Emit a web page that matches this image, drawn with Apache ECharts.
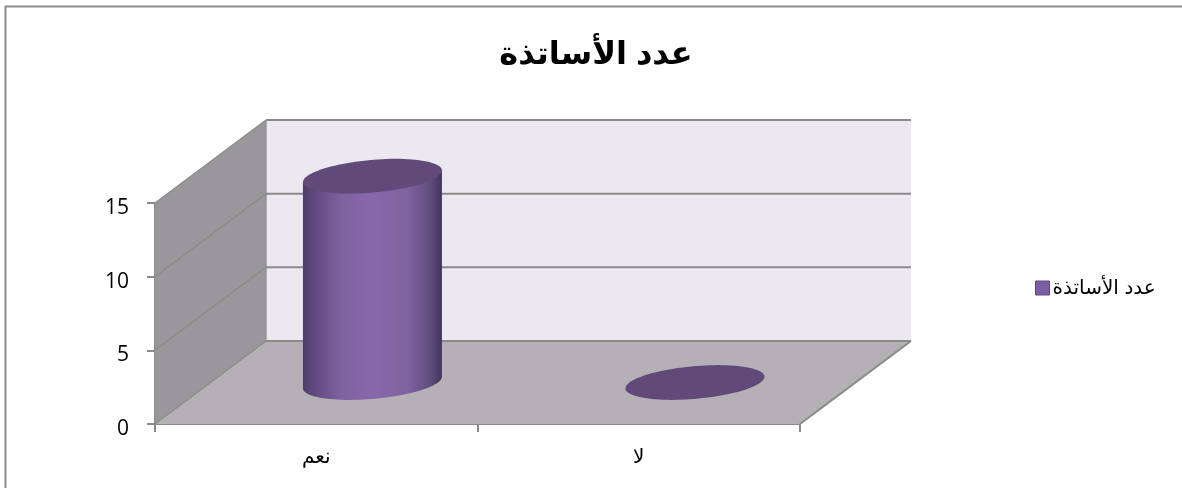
<!DOCTYPE html>
<html><head><meta charset="utf-8">
<style>html,body{margin:0;padding:0;background:#fff}#c{width:1182px;height:488px}</style>
<script src="https://cdn.jsdelivr.net/npm/echarts@6/dist/echarts.min.js"></script>
</head><body><div id="c"></div>
<script>
const titleText = 'عدد الأساتذة';
const seriesName = 'عدد الأساتذة';
const categories = ['نعم', 'لا'];
const values = [14, 0];
const yTicks = [0, 5, 10, 15];

const DX = 111, DY = -83;        // perspective depth of the box
const FONT = '"Liberation Sans","DejaVu Sans",sans-serif';
const NUMFONT = '"Open Sans","Noto Sans",sans-serif';
const chart = echarts.init(document.getElementById('c'), null, {renderer: 'canvas'});

function wallsRender(params, api) {
  const c = params.coordSys;
  const x0 = c.x, x1 = c.x + c.width;
  const y0 = api.coord([0, 0])[1], yTop = api.coord([0, 15])[1];
  const line = {stroke: '#8a8a8a', lineWidth: 2, fill: null};
  const thin = {stroke: '#8a8a8a', lineWidth: 1.2, fill: null};
  const kids = [
    {type: 'polygon', shape: {points: [[x0 + DX, yTop + DY], [x1 + DX, yTop + DY], [x1 + DX, y0 + DY], [x0 + DX, y0 + DY]]}, style: {fill: '#ebe8f0'}},
    {type: 'polygon', shape: {points: [[x0, yTop], [x0 + DX, yTop + DY], [x0 + DX, y0 + DY], [x0, y0]]}, style: {fill: '#99979b'}},
    {type: 'polygon', shape: {points: [[x0, y0], [x0 + DX, y0 + DY], [x1 + DX, y0 + DY], [x1, y0]]}, style: {fill: '#b4b0b5'}},
    {type: 'polyline', shape: {points: [[x0 + DX, yTop + DY], [x0 + DX, y0 + DY]]}, style: thin},
    {type: 'polyline', shape: {points: [[x1, y0], [x1 + DX, y0 + DY]]}, style: line}
  ];
  yTicks.forEach(t => {
    const y = api.coord([0, t])[1];
    kids.push({type: 'polyline', shape: {points: [[x0, y], [x0 + DX, y + DY]]}, style: thin});
    kids.push({type: 'polyline', shape: {points: [[x0 + DX, y + DY], [x1 + DX, y + DY]]}, style: line});
  });
  return {type: 'group', children: kids};
}

function cylinderRender(params, api) {
  const cat = api.value(0), val = api.value(1);
  const b = api.coord([cat, 0]), t = api.coord([cat, val]);
  const ox = DX / 2 + 0.7, oy = DY / 2;
  const cx = b[0] + ox, by = b[1] + oy, ty = t[1] + oy;
  const r1 = 65.5, r2 = 29, ux = 0.8, uy = -0.6;
  const pt = (a, yc) => [cx + r1 * Math.cos(a) + r2 * ux * Math.sin(a), yc + r2 * uy * Math.sin(a)];
  const ell = yc => { const p = []; for (let i = 0; i < 96; i++) p.push(pt(i / 96 * 2 * Math.PI, yc)); return p; };
  const kids = [];
  const tan = Math.atan2(r2 * ux, r1);
  if (val > 0) {
    const pts = [];
    for (let i = 0; i <= 48; i++) pts.push(pt(tan - i / 48 * Math.PI, by));
    pts.push(pt(tan + Math.PI, ty), pt(tan, ty));
    kids.push({type: 'polygon', shape: {points: pts}, style: {
      fill: new echarts.graphic.LinearGradient(0, 0, 1, 0, [
        {offset: 0, color: '#4d3c6b'}, {offset: 0.08, color: '#60497c'}, {offset: 0.28, color: '#7f62a0'},
        {offset: 0.5, color: '#8967ab'}, {offset: 0.75, color: '#8062a0'}, {offset: 0.92, color: '#5f4d7c'}, {offset: 1, color: '#42355c'}
      ])
    }});
  }
  kids.push({type: 'polygon', shape: {points: ell(ty)}, style: {fill: '#614a79'}});
  return {type: 'group', children: kids};
}

chart.setOption({
  animation: false,
  backgroundColor: '#fff',
  title: {text: titleText, left: 591, top: 34, textAlign: 'center',
    textStyle: {fontFamily: FONT, fontSize: 32, fontWeight: 'bold', color: '#000'}},
  legend: {data: [seriesName], left: 1030, top: 273, icon: 'rect', itemWidth: 14, itemHeight: 14, itemGap: 4,
    selectedMode: false,
    itemStyle: {borderColor: '#5f4a80', borderWidth: 1},
    textStyle: {fontFamily: FONT, fontSize: 20, color: '#000', padding: [0, 0, 0, -2]}},
  grid: {left: 155, top: 203, width: 645, height: 221, containLabel: false},
  xAxis: {type: 'category', data: categories,
    axisLine: {lineStyle: {color: '#8a8a8a', width: 2}},
    axisTick: {show: true, length: 8, lineStyle: {color: '#8a8a8a', width: 2}},
    axisLabel: {fontFamily: FONT, fontSize: 20, color: '#000', margin: 23},
    splitLine: {show: false}},
  yAxis: {type: 'value', min: 0, max: 15, interval: 5,
    axisLine: {show: true, lineStyle: {color: '#8a8a8a', width: 2}},
    axisTick: {show: true, length: 8, lineStyle: {color: '#8a8a8a', width: 2}},
    axisLabel: {fontFamily: NUMFONT, fontSize: 21, color: '#000', margin: 26, verticalAlign: 'top', lineHeight: 10},
    splitLine: {show: false}},
  graphic: [
    {type: 'polyline', silent: true, z: -10,
      shape: {points: [[5.5, 488], [5.5, 6.5], [1182, 6.5]]},
      style: {fill: 'none', stroke: '#8c8c8c', lineWidth: 2}}
  ],
  series: [
    {type: 'custom', name: 'walls', silent: true, z: 1, data: [[0, 0]], renderItem: wallsRender},
    {type: 'custom', name: seriesName, z: 3, silent: true, itemStyle: {color: '#7c5fa0'},
      encode: {x: 0, y: 1},
      data: values.map((v, i) => [i, v]), renderItem: cylinderRender}
  ]
});
</script></body></html>
